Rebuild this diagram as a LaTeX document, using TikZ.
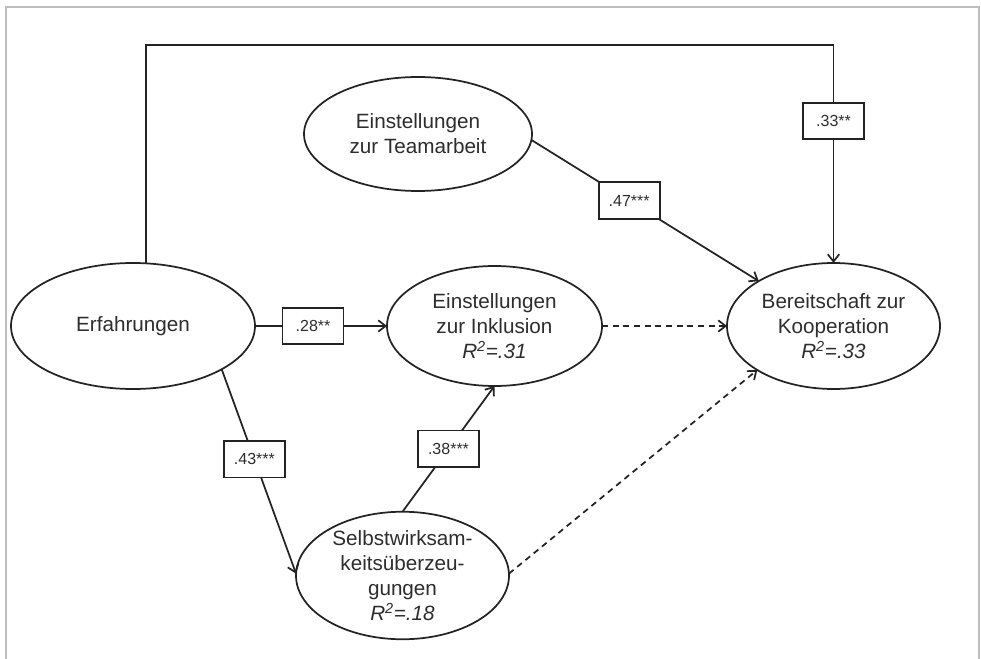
\documentclass[tikz,border=0pt]{standalone}
\usepackage{fontspec}
\setmainfont{Liberation Sans}
\usepackage{tikz}
\usetikzlibrary{arrows.meta,shapes.geometric}
\definecolor{sempath}{RGB}{35,35,35}
\definecolor{semtext}{RGB}{45,45,45}
\definecolor{semframe}{RGB}{190,190,190}

\begin{document}
\begin{tikzpicture}[
    x=0.75pt, y=-0.75pt,
    latent/.style={ellipse, draw=sempath, line width=1.3pt, inner sep=0pt,
                   outer sep=0pt, align=center, text=semtext,
                   font=\fontsize{15.5}{18.75}\selectfont},
    coef/.style={rectangle, draw=sempath, line width=1.3pt, fill=white,
                 inner sep=0pt, minimum width=45.75pt, minimum height=27.5pt,
                 text=semtext, font=\fontsize{12}{13}\selectfont},
    line/.style={draw=sempath, line width=1.3pt},
    arr/.style={line, -{Straight Barb[length=5.5pt,width=8.5pt]}},
    darr/.style={arr, dash pattern=on 4.5pt off 3.5pt},
  ]
  \useasboundingbox (0,0) rectangle (981,659);

  % Rahmen (unten offen)
  \draw[semframe, line width=1.6pt] (6,659) -- (6,7) -- (979,7) -- (979,659);

  % Latente Variablen
  \node[latent, minimum width=183pt, minimum height=94.5pt] (erf) at (133,326)
    {Erfahrungen};
  \node[latent, minimum width=171pt, minimum height=85.5pt] (team) at (418,134)
    {Einstellungen\\zur Teamarbeit};
  \node[latent, minimum width=161.25pt, minimum height=90pt] (inkl) at (494.5,326)
    {Einstellungen\\zur Inklusion\\\textit{R\textsuperscript{2}=.31}};
  \node[latent, minimum width=159.75pt, minimum height=94.5pt] (bereit) at (833.5,326)
    {Bereitschaft zur\\Kooperation\\\textit{R\textsuperscript{2}=.33}};
  \node[latent, minimum width=159.75pt, minimum height=93.75pt] (selbst) at (402.5,575.5)
    {Selbstwirksam-\\keitsüberzeu-\\gungen\\\textit{R\textsuperscript{2}=.18}};

  % Direkter Pfad oben
  \coordinate (turn) at (833.5,45);
  \node[coef] (b33) at (833.5,121) {.33**};
  \draw[line] (erf.78) |- (turn) -- (b33);
  \draw[arr] (b33) -- (bereit);

  % Pfade mit Koeffizienten
  \draw[arr] (team.-3) -- node[coef, pos=0.43] (b47) {.47***} (bereit.149);
  \draw[arr] (erf) -- node[coef, pos=0.44] (b28) {.28**} (inkl);
  \draw[arr] (erf.-26) -- node[coef, pos=0.44] (b43) {.43***} (selbst.179);
  \draw[arr] (selbst.north) -- node[coef, pos=0.5] (b38) {.38***} (inkl.south);

  % nicht signifikante Pfade
  \draw[darr] (inkl) -- (bereit);
  \draw[darr] (selbst.1) -- (bereit.210);
\end{tikzpicture}
\end{document}
